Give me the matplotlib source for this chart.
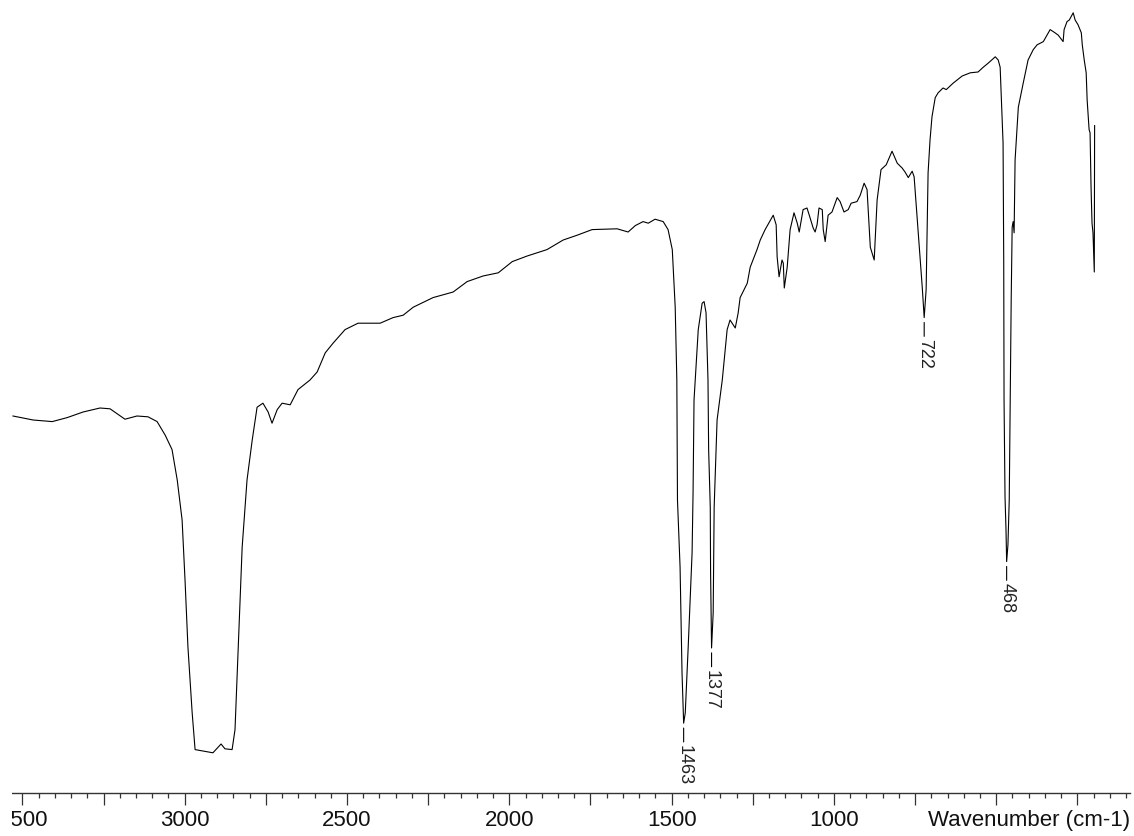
import numpy as np
import matplotlib.pyplot as plt
from matplotlib.ticker import MultipleLocator, FixedLocator
from matplotlib.patches import Rectangle

plt.rcParams['font.family'] = ['Liberation Sans', 'DejaVu Sans']

# IR spectrum (wavenumber in cm-1, transmittance in %)
wavenumber = np.array([
    3529, 3467, 3408, 3362, 3313, 3261, 3230, 3184, 3147, 3113, 3085, 3060, 3039, 3023, 3008,
    2999, 2990, 2977, 2968, 2913, 2888, 2876, 2854, 2845, 2835, 2823, 2808, 2792, 2777, 2759,
    2743, 2731, 2715, 2700, 2675, 2651, 2614, 2592, 2567, 2543, 2506, 2466, 2398, 2358, 2327,
    2296, 2235, 2173, 2130, 2081, 2034, 1991, 1945, 1884, 1834, 1791, 1745, 1668, 1634, 1612,
    1588, 1572, 1551, 1526, 1511, 1498, 1489, 1484, 1482, 1474, 1468, 1463, 1458, 1449, 1437,
    1434, 1431, 1418, 1406, 1400, 1394, 1388, 1386, 1381, 1380, 1377, 1372, 1369, 1360, 1344,
    1329, 1320, 1304, 1295, 1289, 1267, 1258, 1237, 1227, 1212, 1187, 1178, 1175, 1169, 1160,
    1156, 1153, 1144, 1135, 1123, 1113, 1107, 1095, 1083, 1076, 1064, 1058, 1052, 1046, 1036,
    1033, 1027, 1018, 1006, 990, 981, 969, 956, 947, 929, 919, 907, 898, 888, 876,
    867, 855, 839, 821, 805, 790, 781, 771, 759, 753, 744, 728, 722, 716, 713,
    710, 704, 698, 688, 679, 664, 654, 633, 605, 580, 556, 540, 525, 503, 494,
    488, 479, 477, 476, 473, 470, 468, 464, 460, 457, 454, 451, 448, 445, 442,
    432, 417, 402, 386, 374, 355, 334, 319, 309, 294, 291, 282, 275, 263, 257,
    248, 238, 235, 229, 223, 220, 214, 211, 208, 205, 202, 198, 197])

transmittance = np.array([
    48.0, 47.5, 47.3, 47.8, 48.5, 49.0, 48.9, 47.6, 48.0, 47.9, 47.3, 45.6, 43.8, 40.0, 35.0,
    27.5, 19.1, 10.9, 6.3, 5.9, 7.0, 6.4, 6.3, 8.8, 19.1, 31.6, 40.0, 45.0, 49.1, 49.6,
    48.5, 47.1, 48.8, 49.6, 49.4, 51.3, 52.5, 53.5, 55.9, 57.1, 58.8, 59.6, 59.6, 60.3, 60.6,
    61.6, 62.8, 63.5, 64.8, 65.5, 65.9, 67.3, 68.0, 68.8, 70.0, 70.6, 71.3, 71.4, 71.0, 71.8,
    72.3, 72.1, 72.6, 72.3, 71.3, 68.8, 61.6, 52.5, 37.5, 29.1, 15.9, 9.6, 10.9, 19.1, 30.9,
    38.4, 50.0, 58.8, 62.1, 62.3, 60.9, 52.5, 43.8, 36.6, 28.4, 19.0, 23.4, 36.6, 47.5, 52.5,
    58.8, 60.0, 59.0, 60.9, 62.8, 64.6, 66.6, 68.8, 70.0, 71.3, 73.1, 71.9, 67.9, 65.4, 67.5,
    67.1, 64.0, 66.6, 71.3, 73.4, 72.1, 71.0, 73.8, 74.0, 73.1, 71.5, 71.0, 71.9, 74.0, 73.8,
    71.3, 69.8, 73.1, 73.5, 75.3, 74.8, 73.5, 73.8, 74.6, 74.8, 75.6, 77.1, 76.3, 69.1, 67.5,
    75.0, 78.8, 79.4, 81.1, 79.6, 79.0, 78.5, 77.8, 78.6, 77.9, 72.9, 64.1, 60.3, 63.8, 70.9,
    78.4, 82.5, 85.4, 87.8, 88.4, 89.0, 88.8, 89.6, 90.5, 90.9, 91.0, 91.6, 92.1, 92.9, 92.5,
    91.6, 82.1, 67.5, 50.0, 37.9, 33.8, 29.8, 31.9, 37.5, 50.4, 62.5, 71.6, 72.3, 70.9, 80.0,
    86.6, 89.6, 92.5, 93.8, 94.4, 94.8, 96.3, 95.9, 95.6, 94.8, 96.3, 97.3, 97.5, 98.4, 97.5,
    96.9, 95.9, 94.4, 92.5, 90.9, 87.5, 83.8, 83.4, 76.6, 72.1, 70.9, 66.0, 84.3])

peaks = [1463, 1377, 722, 468]
tick_labels = [3500, 3000, 2500, 2000, 1500, 1000]

fig = plt.figure(figsize=(11.34, 8.36), dpi=100)
ax = fig.add_axes([12 / 1134, 43 / 836, 1118 / 1134, 793 / 836])

ax.plot(wavenumber, transmittance, color='black', linewidth=0.8)

# peak marks: short line below the minimum, number rotated underneath
for p in peaks:
    t = np.interp(p, wavenumber[::-1], transmittance[::-1])
    ax.annotate('', xy=(p, t), xytext=(0, -13.5), textcoords='offset points',
                arrowprops=dict(arrowstyle='-', color='black', lw=0.8, shrinkA=0, shrinkB=3.5))
    ax.annotate(str(p), xy=(p, t), xytext=(0, -15.5), textcoords='offset points',
                rotation=270, ha='center', va='top', fontsize=13, color='#222222')

ax.set_xlim(3532, 88)
ax.set_ylim(0.875, 100)

for side in ['left', 'right', 'top']:
    ax.spines[side].set_visible(False)
ax.spines['bottom'].set_color('#333333')
ax.spines['bottom'].set_linewidth(1.0)
ax.set_yticks([])

ax.xaxis.set_major_locator(MultipleLocator(250))
ax.xaxis.set_minor_locator(MultipleLocator(50))
ax.xaxis.set_major_formatter(plt.NullFormatter())
ax.tick_params(axis='x', which='major', length=8.5, width=0.9, color='#333333', direction='out')
ax.tick_params(axis='x', which='minor', length=3.3, width=0.9, color='#333333', direction='out')

for v in tick_labels:
    ax.text(v, -0.021, str(v), transform=ax.get_xaxis_transform(), ha='center', va='top',
            fontsize=16, color='#111111')
ax.text(1.0, -0.021, 'Wavenumber (cm-1)', transform=ax.transAxes, ha='right', va='top',
        fontsize=16, color='#111111')

# the original image is cropped just left of the axis line
fig.add_artist(Rectangle((0, 0), 12 / 1134, 43 / 836, transform=fig.transFigure,
                         facecolor='white', edgecolor='none', zorder=10))

fig.savefig('out.png', dpi=100, facecolor='white')
